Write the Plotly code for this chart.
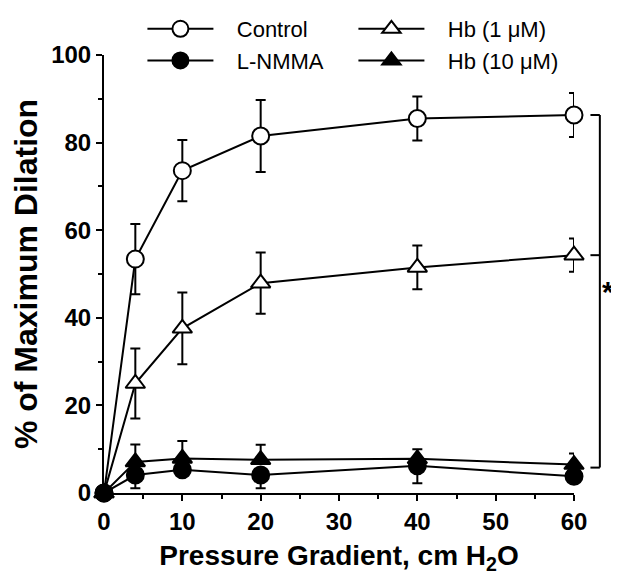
import plotly.graph_objects as go

pressure = [0, 4, 10, 20, 40, 60]

control = [0, 53.4, 73.6, 81.5, 85.5, 86.3]
control_err = [0, 8, 7, 8.2, 5, 5]

hb1 = [0, 25, 37.6, 47.9, 51.5, 54.3]
hb1_err = [0, 8, 8.2, 7, 5, 3.8]

hb10 = [0, 7.1, 7.9, 7.6, 7.8, 6.5]
hb10_err = [0, 4, 4, 3.4, 2.2, 2.5]

lnmma = [0, 4.1, 5.3, 4.1, 6.2, 3.8]
lnmma_err = [0, 3, 0, 3, 4, 0]

x_ticks = [0, 10, 20, 30, 40, 50, 60]
y_ticks = [0, 20, 40, 60, 80, 100]

X_RANGE = [0, 60]
Y_RANGE = [0, 100]

FONT = "Liberation Sans, Arial, sans-serif"
PAD = "\u00a0\u00a0\u00a0"

fig = go.Figure()


def add(name, y, err, symbol, filled, minus_only=False, plus_only=False):
    ed = dict(type="data", thickness=2, width=5, color="black", visible=True)
    if minus_only:
        ed.update(symmetric=False, array=[0] * len(err), arrayminus=err)
    elif plus_only:
        ed.update(symmetric=False, array=err, arrayminus=[0] * len(err))
    else:
        ed.update(array=err)
    fig.add_trace(go.Scatter(
        x=pressure, y=y, name=PAD + name, mode="lines+markers",
        line=dict(color="black", width=2),
        marker=dict(symbol=symbol, size=17, color="black" if filled else "white",
                    line=dict(color="black", width=2)),
        error_y=ed, cliponaxis=False,
    ))


add("Control", control, control_err, "circle", False)
add("Hb (1 \u03bcM)", hb1, hb1_err, "triangle-up", False)
add("L-NMMA", lnmma, lnmma_err, "circle", True, minus_only=True)
add("Hb (10 \u03bcM)", hb10, hb10_err, "triangle-up", True, plus_only=True)


def xp(v):
    return (v - X_RANGE[0]) / (X_RANGE[1] - X_RANGE[0])


# significance bracket (paper x so it is not clipped by the plot area)
bx0, bx1 = 62.1, 63.3
top, mid, bot = control[-1], hb1[-1], hb10[-1] - 0.7
line = dict(color="black", width=2)
fig.add_shape(type="line", xref="paper", yref="y", x0=xp(bx1), x1=xp(bx1), y0=bot, y1=top, line=line)
for yy in (top, mid, bot):
    fig.add_shape(type="line", xref="paper", yref="y", x0=xp(bx0), x1=xp(bx1), y0=yy, y1=yy, line=line)
fig.add_annotation(xref="paper", yref="y", x=xp(65.3), y=46, xanchor="right",
                   text="<b>*</b>", showarrow=False,
                   font=dict(family=FONT, size=30, color="black"))

axis_common = dict(
    showline=True, linecolor="black", linewidth=2,
    ticks="outside", ticklen=6, tickwidth=2, tickcolor="black",
    showgrid=False, zeroline=False,
    tickfont=dict(family=FONT, size=24, color="black", weight="bold"),
)

fig.update_xaxes(
    range=X_RANGE, tickvals=x_ticks, ticktext=[str(v) for v in x_ticks],
    minor=dict(tickvals=[5, 15, 25, 35, 45, 55], ticklen=4, tickwidth=2, tickcolor="black", ticks="outside"),
    title=dict(text="<b>Pressure Gradient, cm H<sub>2</sub>O</b>",
               font=dict(family=FONT, size=28, color="black"), standoff=13),
    **axis_common,
)
fig.update_yaxes(
    range=Y_RANGE, tickvals=y_ticks, ticktext=[str(v) for v in y_ticks],
    minor=dict(tickvals=[10, 30, 50, 70, 90], ticklen=4, tickwidth=2, tickcolor="black", ticks="outside"),
    title=dict(text="<b>% of Maximum Dilation</b>",
               font=dict(family=FONT, size=32, color="black"), standoff=18),
    **axis_common,
)

fig.update_layout(
    width=611, height=567,
    margin=dict(l=96, r=45, t=47, b=82, autoexpand=False),
    paper_bgcolor="white", plot_bgcolor="white",
    showlegend=True,
    legend=dict(
        orientation="h", xref="container", yref="container",
        x=0.22, xanchor="left", y=1.0, yanchor="top",
        entrywidth=130, entrywidthmode="pixels", itemwidth=66,
        font=dict(family=FONT, size=22, color="black"),
        bgcolor="rgba(0,0,0,0)", tracegroupgap=0,
    ),
)

fig.write_html("out.html")
